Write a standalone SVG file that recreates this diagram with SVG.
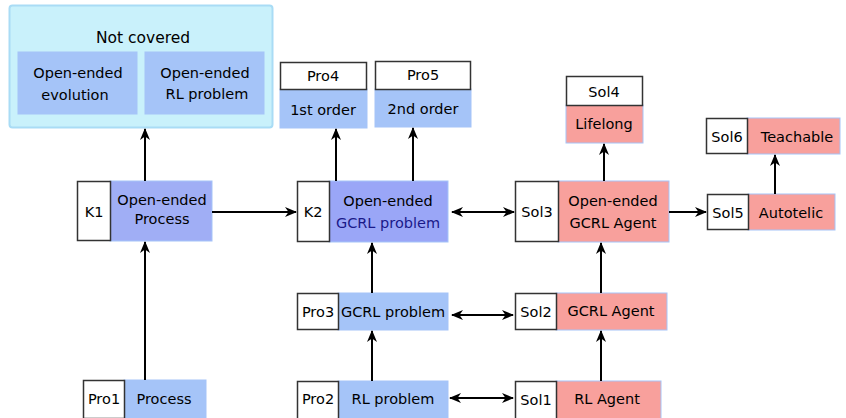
<svg xmlns="http://www.w3.org/2000/svg" width="846" height="418" viewBox="0 0 846 418">
<defs>
<marker id="ah" viewBox="0 0 12 10" refX="11" refY="5" markerWidth="12" markerHeight="10" markerUnits="userSpaceOnUse" orient="auto-start-reverse">
<path d="M0,0 L12,5 L0,10 L3.5,5 z" fill="#000"/>
</marker>
<style>
text{font-family:"DejaVu Sans","Noto Sans",sans-serif;font-size:14.5px;fill:#000;text-anchor:middle;dominant-baseline:central}
.w{fill:#fff;stroke:#333;stroke-width:1.5}
.b{fill:#a5c4f8;stroke:#a5c4f8;stroke-width:1}
.p{fill:#a0aef5;stroke:#a5c4f8;stroke-width:1}
.p2{fill:#9aa6f7;stroke:#a5c4f8;stroke-width:1}
.r{fill:#f8a09c;stroke:#a5c4f8;stroke-width:1}
.c{stroke:#000;stroke-width:2;fill:none}
</style>
</defs>
<rect width="846" height="418" fill="#fff"/>
<g id="notcovered">
<rect x="9.5" y="5.5" width="263" height="122" rx="3" fill="#c9f1fb" stroke="#a9dcf5" stroke-width="2"/>
<text x="143" y="38" style="font-size:15.5px">Not covered</text>
<rect class="b" x="18" y="52" width="119" height="62"/>
<text x="78" y="73">Open-ended</text>
<text x="75" y="95">evolution</text>
<rect class="b" x="145" y="52" width="119" height="62"/>
<text x="205" y="73">Open-ended</text>
<text x="207" y="94">RL problem</text>
</g>
<g id="K1">
<rect class="p" x="110" y="181" width="102" height="60"/>
<rect class="w" x="77.5" y="181.5" width="33" height="59"/>
<text x="94" y="212">K1</text>
<text x="162" y="200">Open-ended</text>
<text x="162" y="219">Process</text>
</g>
<g id="Pro1">
<rect class="b" x="124" y="380" width="82" height="40"/>
<rect class="w" x="83.5" y="380.5" width="41" height="38"/>
<text x="104" y="399">Pro1</text>
<text x="164" y="399">Process</text>
</g>
<g id="K2">
<rect class="p2" x="329" y="181" width="119" height="61"/>
<rect class="w" x="297.5" y="181.5" width="32" height="60"/>
<text x="313" y="212">K2</text>
<text x="388" y="201">Open-ended</text>
<text x="388" y="223" style="fill:#1a1a8a">GCRL problem</text>
</g>
<g id="Pro4">
<rect class="b" x="280" y="89" width="87" height="39"/>
<rect class="w" x="280.5" y="62.5" width="86" height="27"/>
<text x="323" y="76">Pro4</text>
<text x="323" y="110">1st order</text>
</g>
<g id="Pro5">
<rect class="b" x="375" y="89" width="96" height="38"/>
<rect class="w" x="375.5" y="61.5" width="95" height="28"/>
<text x="423" y="75">Pro5</text>
<text x="423" y="109">2nd order</text>
</g>
<g id="Pro3">
<rect class="b" x="338" y="293" width="110" height="37"/>
<rect class="w" x="297.5" y="293.5" width="41" height="36"/>
<text x="318" y="312">Pro3</text>
<text x="393" y="312">GCRL problem</text>
</g>
<g id="Pro2">
<rect class="b" x="338" y="381" width="110" height="39"/>
<rect class="w" x="297.5" y="381.5" width="41" height="38"/>
<text x="318" y="399">Pro2</text>
<text x="393" y="399">RL problem</text>
</g>
<g id="Sol3">
<rect class="r" x="558" y="181" width="111" height="61"/>
<rect class="w" x="515.5" y="181.5" width="43" height="60"/>
<text x="537" y="212">Sol3</text>
<text x="613" y="201">Open-ended</text>
<text x="613" y="223">GCRL Agent</text>
</g>
<g id="Sol4">
<rect class="r" x="566" y="105" width="77" height="38"/>
<rect class="w" x="566.5" y="76.5" width="76" height="29"/>
<text x="604" y="92">Sol4</text>
<text x="604" y="124">Lifelong</text>
</g>
<g id="Sol2">
<rect class="r" x="556" y="293" width="111" height="37"/>
<rect class="w" x="515.5" y="293.5" width="41" height="36"/>
<text x="536" y="312">Sol2</text>
<text x="611" y="311">GCRL Agent</text>
</g>
<g id="Sol1">
<rect class="r" x="556" y="381" width="105" height="39"/>
<rect class="w" x="515.5" y="381.5" width="41" height="38"/>
<text x="536" y="400">Sol1</text>
<text x="607" y="399">RL Agent</text>
</g>
<g id="Sol5">
<rect class="r" x="748" y="194" width="87" height="36"/>
<rect class="w" x="707.5" y="194.5" width="41" height="35"/>
<text x="728" y="213">Sol5</text>
<text x="791" y="213">Autotelic</text>
</g>
<g id="Sol6">
<rect class="r" x="747" y="118" width="93" height="36"/>
<rect class="w" x="706.5" y="118.5" width="41" height="35"/>
<text x="727" y="137">Sol6</text>
<text x="797" y="137">Teachable</text>
</g>
<g id="connectors">
<line class="c" x1="145" y1="181" x2="145" y2="129" marker-end="url(#ah)"/>
<line class="c" x1="145" y1="380" x2="145" y2="242" marker-end="url(#ah)"/>
<line class="c" x1="212" y1="212" x2="296" y2="212" marker-end="url(#ah)"/>
<line class="c" x1="336" y1="181" x2="336" y2="129" marker-end="url(#ah)"/>
<line class="c" x1="413" y1="181" x2="413" y2="128" marker-end="url(#ah)"/>
<line class="c" x1="372" y1="293" x2="372" y2="243" marker-end="url(#ah)"/>
<line class="c" x1="372" y1="381" x2="372" y2="331" marker-end="url(#ah)"/>
<line class="c" x1="452" y1="212" x2="514" y2="212" marker-start="url(#ah)" marker-end="url(#ah)"/>
<line class="c" x1="452" y1="315" x2="513" y2="315" marker-start="url(#ah)" marker-end="url(#ah)"/>
<line class="c" x1="450" y1="398" x2="513" y2="398" marker-start="url(#ah)" marker-end="url(#ah)"/>
<line class="c" x1="604" y1="181" x2="604" y2="144" marker-end="url(#ah)"/>
<line class="c" x1="601" y1="293" x2="601" y2="243" marker-end="url(#ah)"/>
<line class="c" x1="601" y1="381" x2="601" y2="331" marker-end="url(#ah)"/>
<line class="c" x1="669" y1="212" x2="706" y2="212" marker-end="url(#ah)"/>
<line class="c" x1="775" y1="194" x2="775" y2="155" marker-end="url(#ah)"/>
</g>
</svg>
